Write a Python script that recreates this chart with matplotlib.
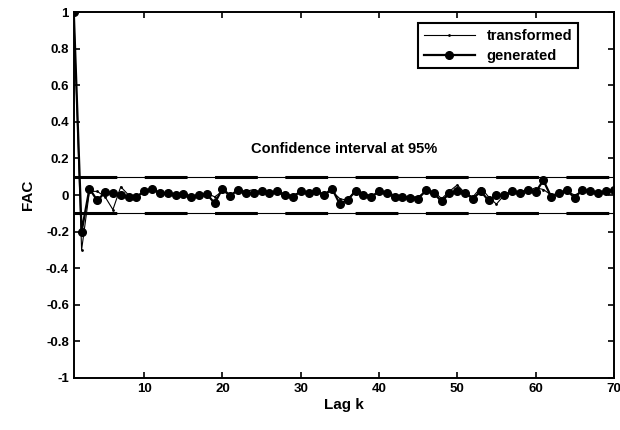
import matplotlib.pyplot as plt
import numpy as np

lags = np.arange(1, 71)

generated = [1.00, -0.20, 0.035, -0.03, 0.015, 0.01, 0.00, -0.01, -0.01, 0.02,
             0.035, 0.01, 0.01, 0.00, 0.005, -0.01, 0.00, 0.005, -0.045, 0.035,
             -0.005, 0.03, 0.01, 0.01, 0.02, 0.01, 0.02, 0.00, -0.01, 0.02,
             0.01, 0.02, 0.00, 0.035, -0.05, -0.025, 0.02, 0.00, -0.01, 0.02,
             0.01, -0.01, -0.01, -0.015, -0.02, 0.025, 0.01, -0.035, 0.01, 0.02,
             0.01, -0.02, 0.02, -0.03, 0.00, 0.00, 0.02, 0.01, 0.03, 0.015,
             0.08, -0.01, 0.01, 0.025, -0.015, 0.03, 0.02, 0.01, 0.02, 0.03]

transformed = [1.00, -0.30, 0.02, 0.02, -0.01, -0.08, 0.045, 0.00, -0.01, 0.02,
               0.03, 0.01, 0.00, 0.01, 0.00, -0.015, 0.005, 0.01, -0.01, 0.02,
               0.00, 0.025, 0.02, 0.03, 0.01, 0.015, 0.01, 0.00, 0.00, 0.015,
               0.02, 0.01, 0.01, 0.02, -0.02, -0.03, 0.03, 0.01, -0.005, 0.01,
               0.015, 0.00, -0.01, -0.01, -0.01, 0.02, 0.02, -0.02, 0.02, 0.055,
               0.01, -0.01, 0.04, -0.01, -0.05, 0.00, 0.01, 0.02, 0.02, 0.04,
               0.03, 0.00, 0.01, 0.02, 0.00, 0.02, 0.02, 0.01, 0.015, 0.025]

conf = 0.1  # 95% bound
xticks = [10, 20, 30, 40, 50, 60, 70]
yticks = [-1, -0.8, -0.6, -0.4, -0.2, 0, 0.2, 0.4, 0.6, 0.8, 1]
ylabels = ['-1', '-0.8', '-0.6', '-0.4', '-0.2', '0', '0.2', '0.4', '0.6', '0.8', '1']

plt.rcParams['font.family'] = ['Liberation Sans', 'DejaVu Sans']
plt.rcParams['font.weight'] = 'bold'

fig = plt.figure(figsize=(6.2, 4.3), dpi=100)
ax = fig.add_axes([0.119, 0.121, 0.871, 0.851])

# confidence band: thin rule with heavy dashes over it
for c in (conf, -conf):
    ax.axhline(c, color='black', lw=0.8)
    ax.axhline(c, color='black', lw=2.2, dashes=(14, 9))

ax.plot(lags, transformed, color='black', lw=0.8, marker='.', markersize=2,
        label='transformed')
ax.plot(lags, generated, color='black', lw=1.6, marker='o', markersize=5.5,
        label='generated')

ax.text(35.5, 0.25, 'Confidence interval at 95%', ha='center', va='center',
        fontsize=10.5, fontweight='bold')

ax.set_xlim(1, 70)
ax.set_ylim(-1, 1)
ax.set_xticks(xticks)
ax.set_yticks(yticks)
ax.set_yticklabels(ylabels)
ax.tick_params(direction='in', top=True, right=True, labelsize=9.5, width=1.2,
               length=4)
for lab in ax.get_xticklabels() + ax.get_yticklabels():
    lab.set_fontweight('bold')
for s in ax.spines.values():
    s.set_linewidth(1.4)

ax.set_xlabel('Lag k', fontsize=11, fontweight='bold', labelpad=2)
ax.set_ylabel('FAC', fontsize=11, fontweight='bold', labelpad=8)

leg = ax.legend(loc='upper right', bbox_to_anchor=(0.947, 0.99), fancybox=False,
                edgecolor='black', framealpha=1, fontsize=10.5,
                handlelength=3.5, borderpad=0.4, labelspacing=0.4)
leg.get_frame().set_linewidth(1.5)
for t in leg.get_texts():
    t.set_fontweight('bold')

fig.savefig('out.png', dpi=100)
